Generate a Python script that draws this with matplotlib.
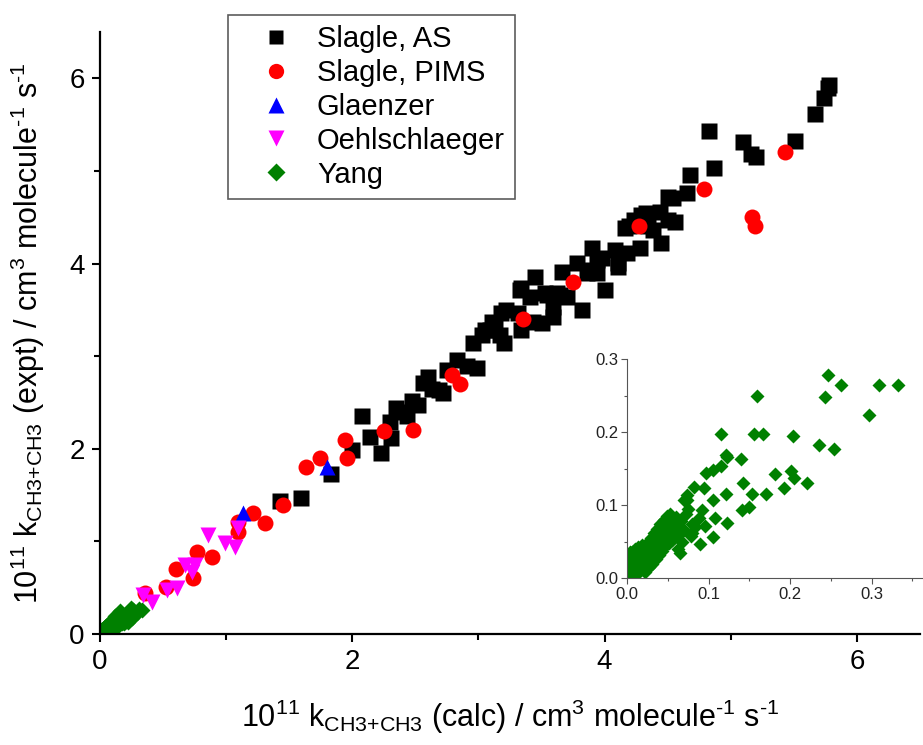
import matplotlib
matplotlib.use("Agg")
import matplotlib.pyplot as plt
from matplotlib.ticker import MultipleLocator, FormatStrFormatter
from matplotlib.lines import Line2D

plt.rcParams['font.family'] = ['Liberation Sans', 'DejaVu Sans']
plt.rcParams['mathtext.fontset'] = 'custom'
plt.rcParams['mathtext.rm'] = 'Liberation Sans'
plt.rcParams['mathtext.it'] = 'Liberation Sans:italic'

# ---- data (10^11 k, calc vs expt) ----
as_calc = [1.43, 1.59, 1.83, 2.00, 2.08, 2.14, 2.23, 2.30, 2.31, 2.35, 2.40, 2.43, 2.47,
           2.52, 2.56, 2.60, 2.63, 2.69, 2.72, 2.75, 2.83, 2.91, 2.99, 2.96, 3.03, 3.05,
           3.09, 3.11, 3.13, 3.17, 3.18, 3.20, 3.22, 3.31, 3.33, 3.34, 3.34, 3.41, 3.43,
           3.45, 3.50, 3.53, 3.54, 3.59, 3.59, 3.62, 3.65, 3.66, 3.70, 3.78, 3.82, 3.86,
           3.88, 3.90, 3.94, 3.94, 3.98, 4.00, 4.08, 4.11, 4.11, 4.16, 4.18, 4.19, 4.23,
           4.28, 4.29, 4.33, 4.34, 4.38, 4.44, 4.45, 4.50, 4.50, 4.54, 4.56, 4.65, 4.68,
           4.87, 4.83, 5.10, 5.16, 5.20, 5.51, 5.67, 5.74, 5.77, 5.78]
as_expt = [1.44, 1.47, 1.73, 1.99, 2.35, 2.13, 1.95, 2.29, 2.12, 2.44, 2.40, 2.35, 2.52,
           2.47, 2.71, 2.78, 2.64, 2.63, 2.60, 2.85, 2.96, 2.89, 2.87, 3.14, 3.23, 3.28,
           3.28, 3.37, 3.34, 3.23, 3.47, 3.14, 3.50, 3.47, 3.71, 3.28, 3.74, 3.64, 3.37,
           3.86, 3.36, 3.68, 3.66, 3.42, 3.53, 3.68, 3.66, 3.91, 3.64, 4.01, 3.50, 3.90,
           3.93, 4.17, 3.90, 4.04, 4.06, 3.71, 4.15, 4.01, 3.96, 4.38, 4.11, 4.40, 4.47,
           4.17, 4.52, 4.55, 4.40, 4.36, 4.56, 4.22, 4.72, 4.47, 4.71, 4.45, 4.76, 4.96,
           5.03, 5.43, 5.31, 5.18, 5.15, 5.32, 5.62, 5.79, 5.90, 5.93]

pims_calc = [0.36, 0.52, 0.60, 0.74, 0.77, 0.89, 1.09, 1.09, 1.21, 1.31, 1.45, 1.63, 1.74,
             1.96, 1.94, 2.25, 2.48, 2.79, 2.85, 3.35, 3.75, 4.27, 4.79, 5.17, 5.19, 5.43]
pims_expt = [0.44, 0.51, 0.70, 0.60, 0.89, 0.83, 1.10, 1.21, 1.31, 1.20, 1.39, 1.80, 1.90,
             1.90, 2.10, 2.19, 2.20, 2.80, 2.70, 3.40, 3.80, 4.41, 4.80, 4.50, 4.40, 5.20]

gl_calc = [1.13, 1.80]
gl_expt = [1.31, 1.80]

oe_calc = [0.34, 0.41, 0.53, 0.61, 0.67, 0.73, 0.75, 0.86, 0.99, 1.07, 1.09]
oe_expt = [0.42, 0.35, 0.48, 0.50, 0.75, 0.67, 0.75, 1.07, 0.98, 0.94, 1.14]

yang_calc = [0.002, 0.003, 0.004, 0.005, 0.006, 0.008, 0.009, 0.010, 0.011, 0.012, 0.013,
             0.014, 0.015, 0.016, 0.017, 0.018, 0.019, 0.020, 0.021, 0.022, 0.023, 0.024,
             0.025, 0.026, 0.027, 0.028, 0.029, 0.030, 0.031, 0.032, 0.033, 0.034, 0.035,
             0.036, 0.037, 0.038, 0.039, 0.040, 0.041, 0.042, 0.043, 0.044, 0.045, 0.046,
             0.047, 0.048, 0.049, 0.050, 0.051, 0.052, 0.053, 0.054, 0.055, 0.056, 0.058,
             0.059, 0.060, 0.062, 0.063, 0.064, 0.066, 0.068, 0.070, 0.072, 0.073, 0.075,
             0.078, 0.080, 0.084, 0.088, 0.004, 0.014,
             0.246, 0.262, 0.243, 0.309, 0.332, 0.297, 0.160, 0.115, 0.156, 0.167, 0.203,
             0.235, 0.254, 0.122, 0.123, 0.140, 0.115, 0.106, 0.097, 0.181, 0.201, 0.205,
             0.221, 0.192, 0.142, 0.153, 0.171, 0.121, 0.106, 0.092, 0.082, 0.094, 0.141,
             0.150, 0.108, 0.123, 0.096, 0.106, 0.090, 0.070, 0.074, 0.080, 0.065]
yang_expt = [0.003, 0.010, 0.020, 0.030, 0.036, 0.012, 0.025, 0.040, 0.005, 0.018, 0.030,
             0.038, 0.010, 0.022, 0.034, 0.045, 0.015, 0.028, 0.040, 0.008, 0.020, 0.034,
             0.048, 0.026, 0.015, 0.040, 0.055, 0.030, 0.020, 0.046, 0.062, 0.036, 0.026,
             0.052, 0.068, 0.042, 0.032, 0.058, 0.074, 0.048, 0.038, 0.064, 0.080, 0.054,
             0.044, 0.070, 0.085, 0.060, 0.048, 0.076, 0.088, 0.064, 0.052, 0.080, 0.068,
             0.056, 0.084, 0.072, 0.040, 0.060, 0.078, 0.050, 0.066, 0.088, 0.107, 0.095,
             0.058, 0.074, 0.070, 0.082, 0.036, 0.043,
             0.278, 0.264, 0.248, 0.265, 0.264, 0.223, 0.249, 0.198, 0.197, 0.197, 0.195,
             0.182, 0.177, 0.169, 0.166, 0.163, 0.153, 0.148, 0.144, 0.142, 0.147, 0.137,
             0.131, 0.123, 0.130, 0.116, 0.115, 0.115, 0.107, 0.093, 0.125, 0.124, 0.093,
             0.097, 0.082, 0.076, 0.071, 0.057, 0.047, 0.107, 0.114, 0.062, 0.034]

labels = ['Slagle, AS', 'Slagle, PIMS', 'Glaenzer', 'Oehlschlaeger', 'Yang']
colors = ['#000000', '#ff0000', '#0000ff', '#ff00ff', '#008000']
markers = ['s', 'o', '^', 'v', 'D']

fig = plt.figure(figsize=(9.23, 7.45), dpi=100)
ax = fig.add_axes([100/923, 1-634/745, 820/923, 602/745])

ax.plot(yang_calc, yang_expt, ls='none', marker='D', ms=7.8, color=colors[4], mec='none', zorder=2)
ax.plot(as_calc, as_expt, ls='none', marker='s', ms=11, color=colors[0], mec='none', zorder=3)
ax.plot(pims_calc, pims_expt, ls='none', marker='o', ms=11.5, color=colors[1], mec='none', zorder=4)
ax.plot(gl_calc, gl_expt, ls='none', marker='^', ms=11.5, color=colors[2], mec='none', zorder=5)
ax.plot(oe_calc, oe_expt, ls='none', marker='v', ms=11.5, color=colors[3], mec='none', zorder=6)

ax.set_xlim(0, 6.5)
ax.set_ylim(0, 6.5)
ax.xaxis.set_major_locator(MultipleLocator(2))
ax.xaxis.set_minor_locator(MultipleLocator(1))
ax.yaxis.set_major_locator(MultipleLocator(2))
ax.yaxis.set_minor_locator(MultipleLocator(1))
for s in ['top', 'right']:
    ax.spines[s].set_visible(False)
for s in ['left', 'bottom']:
    ax.spines[s].set_linewidth(1.6)
ax.tick_params(which='major', direction='out', length=6, width=1.5, labelsize=20, pad=5)
ax.tick_params(which='minor', direction='out', length=4, width=1.5)

hy = '\u2010'
ax.set_xlabel(r'$\mathrm{10^{11}\ k_{CH3{+}CH3}\ (calc)\ /\ cm^{3}\ molecule^{' + hy + r'1}\ s^{' + hy + r'1}}$',
              fontsize=22, labelpad=16)
ax.set_ylabel(r'$\mathrm{10^{11}\ k_{CH3{+}CH3}\ (expt)\ /\ cm^{3}\ molecule^{' + hy + r'1}\ s^{' + hy + r'1}}$',
              fontsize=22, labelpad=16)

handles = [Line2D([], [], ls='none', marker=m, color=c, mec='none', ms=ms)
           for m, c, ms in zip(markers, colors, [10, 11, 11, 11, 9])]
leg = fig.legend(handles, labels, loc='upper left', bbox_to_anchor=(228/923, 1-15/745),
                 fontsize=21, frameon=True, fancybox=False, borderpad=0.35,
                 labelspacing=0.2, handletextpad=0.1, handlelength=2.6, borderaxespad=0)
leg.get_frame().set_edgecolor('#333333')
leg.get_frame().set_linewidth(1.2)

# inset
axi = fig.add_axes([627/923, 1-578.3/745, 296/923, 219.3/745])
axi.set_facecolor('none')
axi.plot(yang_calc, yang_expt, ls='none', marker='D', ms=7.5, color=colors[4], mec='none')
axi.set_xlim(0, 0.363)
axi.set_ylim(0, 0.3)
axi.xaxis.set_major_locator(MultipleLocator(0.1))
axi.xaxis.set_minor_locator(MultipleLocator(0.05))
axi.yaxis.set_major_locator(MultipleLocator(0.1))
axi.yaxis.set_minor_locator(MultipleLocator(0.05))
axi.xaxis.set_major_formatter(FormatStrFormatter('%.1f'))
axi.yaxis.set_major_formatter(FormatStrFormatter('%.1f'))
for s in ['top', 'right']:
    axi.spines[s].set_visible(False)
for s in ['left', 'bottom']:
    axi.spines[s].set_linewidth(0.8)
    axi.spines[s].set_color('#555555')
axi.tick_params(which='major', direction='out', length=4, width=0.8, labelsize=12,
                colors='#555555', labelcolor='#222222', pad=2)
axi.tick_params(which='minor', direction='out', length=2.5, width=0.8, colors='#555555')

fig.savefig('out.png', dpi=100)
